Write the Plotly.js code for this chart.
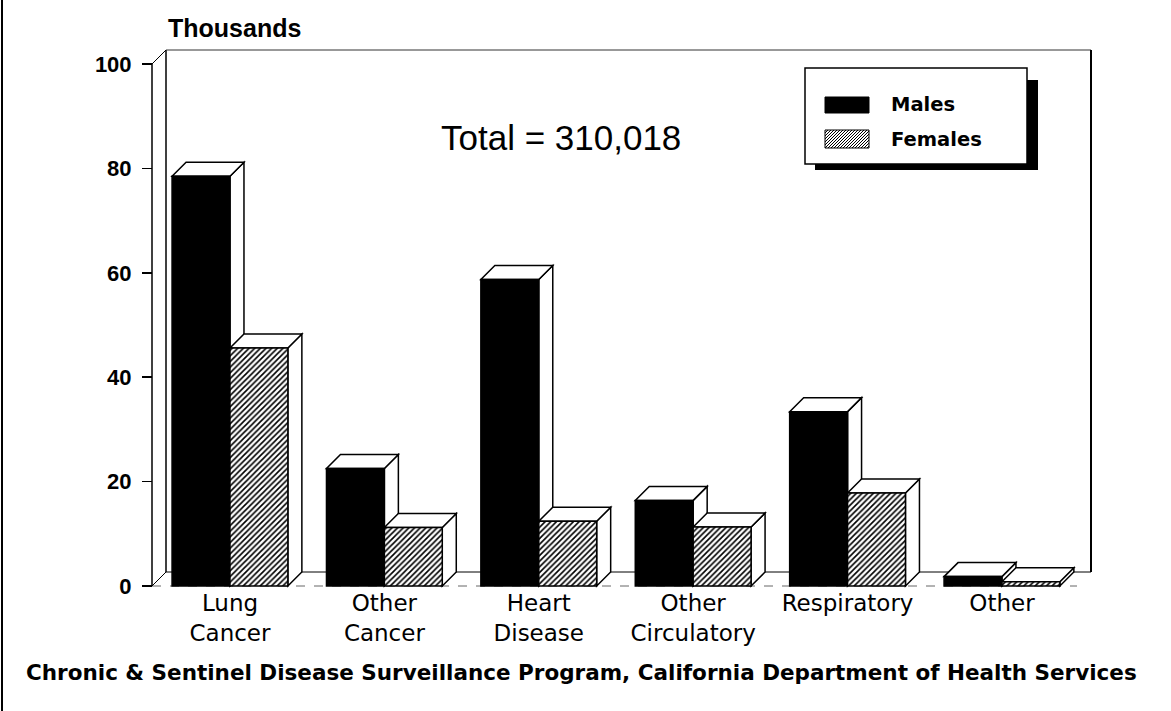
<!DOCTYPE html>
<html>
<head>
<meta charset="utf-8">
<script src="https://cdn.plot.ly/plotly-3.0.1.min.js"></script>
<style>
  html, body { margin: 0; padding: 0; background: #ffffff; }
  #chart { width: 1171px; height: 711px; }
</style>
</head>
<body>
<div id="chart"></div>
<script>
// ---------------- data ----------------
const categories = ["Lung Cancer", "Other Cancer", "Heart Disease", "Other Circulatory", "Respiratory", "Other"];
const males   = [78.5, 22.5, 58.7, 16.4, 33.4, 1.8];
const females = [45.6, 11.2, 12.4, 11.3, 17.8, 0.8];
const seriesNames = ["Males", "Females"];
const yTicks = [0, 20, 40, 60, 80, 100];
const yUnitLabel = "Thousands";
const totalLabel = "Total = 310,018";
const sourceNote = "Chronic & Sentinel Disease Surveillance Program, California Department of Health Services";

// ---------------- layout geometry (pixels) ----------------
const FIG_W = 1171, FIG_H = 711;
const AX = 152, BASE = 586, FRONT_R = 1077, TOP100 = 64, DEPTH = 14;
const PAD = 6;
const L = AX - PAD, R = FRONT_R + DEPTH + PAD, T = (TOP100 - DEPTH) - PAD, B = BASE + PAD;
const W = R - L, H = B - T;
const xFrontMin = -0.505, xFrontMax = 5.486;
const yTop = yTicks[yTicks.length - 1];
const xu = (FRONT_R - AX) / (xFrontMax - xFrontMin);
const yu = (BASE - TOP100) / yTop;
const xr0 = xFrontMin - PAD / xu, xr1 = xr0 + W / xu;
const yr0 = -PAD / yu, yr1 = yr0 + H / yu;
const dx = DEPTH / xu, dy = DEPTH / yu;
const xBackMax = xFrontMax + dx;
const bargap = 0.25, bw = (1 - bargap) / 2;

const paperX = px => (px - L) / W;
const paperY = py => (B - py) / H;

const idx = categories.map((c, i) => i);
const tickText = categories.map(c => c.replace(" ", "<br>"));

// ---------------- traces ----------------
const traces = [
  {
    type: "bar", name: seriesNames[0], x: idx, y: males,
    marker: { color: "#000000", line: { color: "#000000", width: 1.5 } },
    showlegend: false, hoverinfo: "skip"
  },
  {
    type: "bar", name: seriesNames[1], x: idx, y: females,
    marker: {
      color: "#ffffff",
      pattern: { shape: "/", fgcolor: "#000000", bgcolor: "#ffffff", size: 4, solidity: 0.4 },
      line: { color: "#000000", width: 1.5 }
    },
    showlegend: false, hoverinfo: "skip"
  }
];

// ---------------- 3D frame ----------------
const shapes = [];
const ln = (x0, y0, x1, y1, color, width, dash) => shapes.push({
  type: "line", xref: "x", yref: "y", x0, y0, x1, y1, layer: "below",
  line: { color, width, dash: dash || "solid" }
});
ln(xFrontMin, 0, xFrontMax, 0, "#666666", 1, "dash");          // floor front edge
ln(xFrontMin + dx, dy, xBackMax, dy, "#000000", 1);              // floor back edge
ln(xFrontMin + dx, dy, xFrontMin + dx, yTop + dy, "#000000", 1.5); // back wall left
ln(xFrontMin + dx, yTop + dy, xBackMax, yTop + dy, "#333333", 1);  // back wall top
ln(xBackMax, yTop + dy, xBackMax, dy, "#000000", 2);             // right wall
ln(xFrontMin, 0, xFrontMin, yTop, "#000000", 1.5);                 // front y axis
ln(xFrontMin, yTop, xFrontMin + dx, yTop + dy, "#000000", 1);     // top connector
ln(xFrontMin, 0, xFrontMin + dx, dy, "#000000", 1);               // bottom connector

// bar sides and tops
const face = d => shapes.push({
  type: "path", xref: "x", yref: "y", path: d, layer: "below",
  fillcolor: "#ffffff", line: { color: "#000000", width: 1.5 }
});
categories.forEach((c, i) => {
  [males[i], females[i]].forEach((v, s) => {
    const x0 = i - bw + s * bw, x1 = x0 + bw;
    face(`M${x1},0 L${x1},${v} L${x1 + dx},${v + dy} L${x1 + dx},${dy} Z`);
    face(`M${x0},${v} L${x1},${v} L${x1 + dx},${v + dy} L${x0 + dx},${v + dy} Z`);
  });
});

// ---------------- legend box (drawn) ----------------
const prect = (x0, y0, x1, y1, fill, lineW) => shapes.push({
  type: "rect", xref: "paper", yref: "paper", layer: "above",
  x0: paperX(x0), x1: paperX(x1), y0: paperY(y0), y1: paperY(y1),
  fillcolor: fill, line: { color: "#000000", width: lineW }
});
prect(815, 80, 1038, 170, "#000000", 0);     // shadow
prect(805, 68, 1027, 164, "#ffffff", 1.5);   // box
prect(825, 97, 869, 113, "#000000", 1);      // males swatch
prect(825, 130, 869, 148, "#ffffff", 1);     // females swatch
// hatch for females swatch
(function () {
  const x0 = 825, x1 = 869, y0 = 130, y1 = 148, step = 3;
  let d = "";
  for (let s = x0 + y0 + step; s < x1 + y1; s += step) {
    let ax, ay, bx, by;
    if (s - y0 <= x1) { ax = s - y0; ay = y0; } else { ax = x1; ay = s - x1; }
    if (s - x0 <= y1) { bx = x0; by = s - x0; } else { bx = s - y1; by = y1; }
    d += `M${paperX(ax)},${paperY(ay)} L${paperX(bx)},${paperY(by)} `;
  }
  shapes.push({ type: "path", xref: "paper", yref: "paper", layer: "above", path: d,
    line: { color: "#000000", width: 1 } });
})();

// scan edge on the far left
shapes.push({ type: "line", xref: "paper", yref: "paper", layer: "above",
  x0: paperX(2), x1: paperX(2), y0: paperY(FIG_H), y1: paperY(0),
  line: { color: "#000000", width: 2 } });

// ---------------- annotations ----------------
const annotations = [
  { text: yUnitLabel, xref: "paper", yref: "paper", x: paperX(166), y: paperY(28),
    xanchor: "left", yanchor: "middle", showarrow: false,
    font: { family: "Liberation Sans, Arial, sans-serif", size: 25, color: "#000000", weight: 700 } },
  { text: totalLabel, xref: "paper", yref: "paper", x: paperX(561), y: paperY(137),
    xanchor: "center", yanchor: "middle", showarrow: false,
    font: { family: "Liberation Sans, Arial, sans-serif", size: 35, color: "#000000" } },
  { text: seriesNames[0], xref: "paper", yref: "paper", x: paperX(889), y: paperY(105),
    xanchor: "left", yanchor: "middle", showarrow: false,
    font: { family: "DejaVu Sans, sans-serif", size: 19.5, color: "#000000", weight: 700 } },
  { text: seriesNames[1], xref: "paper", yref: "paper", x: paperX(889), y: paperY(139),
    xanchor: "left", yanchor: "middle", showarrow: false,
    font: { family: "DejaVu Sans, sans-serif", size: 19.5, color: "#000000", weight: 700 } },
  { text: sourceNote, xref: "paper", yref: "paper", x: paperX(581), y: paperY(672),
    xanchor: "center", yanchor: "middle", showarrow: false,
    font: { family: "DejaVu Sans, sans-serif", size: 21.5, color: "#000000", weight: 700 } }
];

// ---------------- layout ----------------
const layout = {
  width: FIG_W, height: FIG_H,
  margin: { l: L, r: FIG_W - R, t: T, b: FIG_H - B, pad: 0 },
  paper_bgcolor: "#ffffff", plot_bgcolor: "#ffffff",
  barmode: "group", bargap: bargap, bargroupgap: 0,
  hovermode: false, showlegend: false,
  xaxis: {
    range: [xr0, xr1], anchor: "free", position: paperY(BASE),
    tickvals: idx, ticktext: tickText, ticks: "", showgrid: false, zeroline: false, showline: false,
    tickfont: { family: "DejaVu Sans, sans-serif", size: 23, color: "#000000" },
    ticklabelstandoff: 1
  },
  yaxis: {
    range: [yr0, yr1], anchor: "free", position: paperX(AX),
    tickvals: yTicks, ticktext: yTicks.map(String), ticks: "outside", ticklen: 10, tickwidth: 1.5,
    tickcolor: "#000000", showgrid: false, zeroline: false, showline: false,
    tickfont: { family: "Liberation Sans, Arial, sans-serif", size: 22, color: "#000000", weight: 700 },
    ticklabelstandoff: 6
  },
  shapes: shapes,
  annotations: annotations
};

Plotly.newPlot("chart", traces, layout, { displayModeBar: false, staticPlot: true });
</script>
</body>
</html>
